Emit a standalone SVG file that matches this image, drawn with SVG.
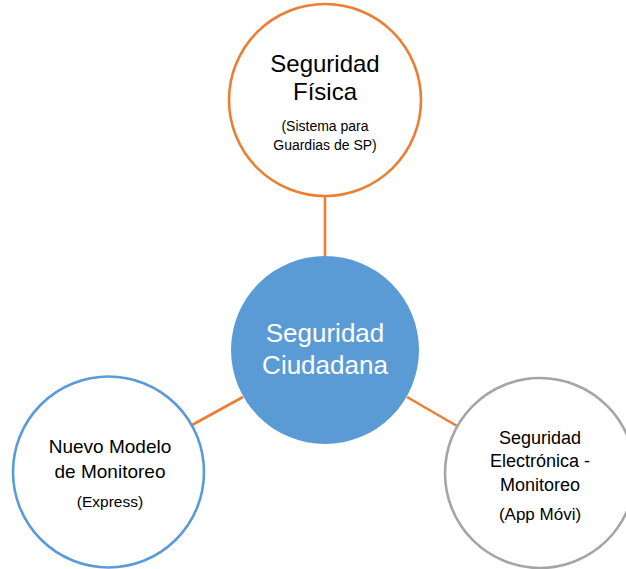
<svg xmlns="http://www.w3.org/2000/svg" width="626" height="569" viewBox="0 0 626 569">
<style>
.t{font-family:"Liberation Sans","Open Sans",sans-serif;text-anchor:middle;fill:#000}
.w{fill:#fff}
.c{fill:#fff;stroke-width:2.6}
.l{stroke:#ED7D31;stroke-width:2.6;fill:none}
</style>
<rect width="626" height="569" fill="#fff"/>
<g id="connectors">
<line class="l" x1="325" y1="195" x2="325" y2="256"/>
<line class="l" x1="243" y1="397" x2="192" y2="425"/>
<line class="l" x1="407" y1="397" x2="457" y2="426"/>
</g>
<g id="fisica">
<circle class="c" cx="325" cy="100" r="96" stroke="#ED7D31"/>
<text class="t" x="325" y="72" font-size="24">Seguridad</text>
<text class="t" x="325" y="100" font-size="24">Física</text>
<text class="t" x="325" y="131" font-size="14">(Sistema para</text>
<text class="t" x="325" y="150" font-size="14">Guardias de SP)</text>
</g>
<g id="ciudadana">
<circle cx="325" cy="350" r="94" fill="#5B9BD5"/>
<text class="t w" x="325" y="342" font-size="26">Seguridad</text>
<text class="t w" x="325" y="374" font-size="26">Ciudadana</text>
</g>
<g id="nuevo">
<circle class="c" cx="108.5" cy="472" r="95.5" stroke="#5B9BD5"/>
<text class="t" x="110" y="453" font-size="19">Nuevo Modelo</text>
<text class="t" x="110" y="478" font-size="19">de Monitoreo</text>
<text class="t" x="110" y="507" font-size="15.5">(Express)</text>
</g>
<g id="electronica">
<circle class="c" cx="540" cy="473" r="95" stroke="#A5A5A5"/>
<text class="t" x="540" y="444" font-size="18">Seguridad</text>
<text class="t" x="540" y="467" font-size="18">Electrónica -</text>
<text class="t" x="540" y="491" font-size="18">Monitoreo</text>
<text class="t" x="540" y="520" font-size="17">(App Móvi)</text>
</g>
</svg>
